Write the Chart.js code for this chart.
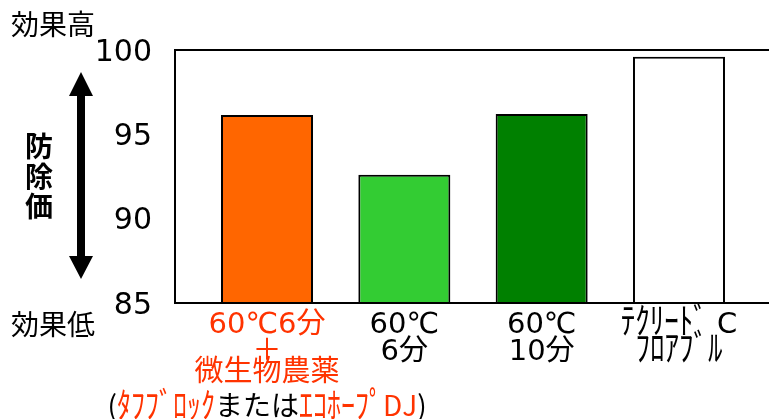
<!DOCTYPE html>
<html>
<head>
<meta charset="utf-8">
<title>防除価</title>
<script src="https://cdn.jsdelivr.net/npm/chart.js@4.4.0/dist/chart.umd.min.js"></script>
<style>
    html, body { margin: 0; padding: 0; background: #fff; overflow: hidden; }
    #wrap { position: relative; width: 780px; height: 419px; }
</style>
</head>
<body>
<div id="wrap"><canvas id="chart"></canvas></div>
<script>
// data
const categories = [
    ['60℃6分', '＋', '微生物農薬', '(ﾀﾌﾌﾞﾛｯｸまたはｴｺﾎｰﾌﾟDJ)'],
    ['60℃', '6分'],
    ['60℃', '10分'],
    ['ﾃｸﾘｰﾄﾞ C', 'ﾌﾛｱﾌﾞﾙ']
];
const values = [96.15, 92.6, 96.2, 99.6];
const barColors = ['#FF6600', '#33CC33', '#008000', '#FFFFFF'];
const labelColors = ['#FF3300', '#000000', '#000000', '#000000'];
const yTicks = [85, 90, 95, 100];
const yTop = '効果高';
const yBottom = '効果低';
const yTitle = ['防', '除', '価'];

const FONT = "'Noto Sans CJK JP', 'Noto Sans', sans-serif";
const LABEL_FONT = "'DejaVu Sans', 'Noto Sans CJK JP', sans-serif";

function isHalfKana(ch) {
    const c = ch.charCodeAt(0);
    return c >= 0xFF61 && c <= 0xFF9F;
}

// draws one label line centred on cx, half-width kana stretched a bit taller
function drawLine(ctx, text, cx, y, colorOf) {
    const chars = Array.from(text);
    let total = 0;
    chars.forEach(function (ch) { total += ctx.measureText(ch).width; });
    let px = cx - total / 2;
    ctx.textAlign = 'left';
    chars.forEach(function (ch, k) {
        ctx.fillStyle = colorOf(k);
        if (isHalfKana(ch)) {
            ctx.save();
            ctx.translate(px, y);
            ctx.scale(1, 1.25);
            ctx.fillText(ch, 0, 0);
            ctx.restore();
        } else {
            ctx.fillText(ch, px, y);
        }
        px += ctx.measureText(ch).width;
    });
}

// frame, arrow, side texts and category labels
const decorations = {
    id: 'decorations',
    afterDraw: function (chart) {
        const ctx = chart.ctx;
        const area = chart.chartArea;
        const x = chart.scales.x;

        ctx.save();
        ctx.strokeStyle = '#000';
        ctx.lineWidth = 2;
        ctx.strokeRect(area.left, area.top, area.right - area.left, area.bottom - area.top);

        // double arrow
        ctx.fillStyle = '#000';
        ctx.fillRect(77, 92, 8, 168);
        ctx.beginPath();
        ctx.moveTo(81, 72); ctx.lineTo(93, 96); ctx.lineTo(69, 96); ctx.closePath();
        ctx.moveTo(81, 279); ctx.lineTo(93, 256); ctx.lineTo(69, 256); ctx.closePath();
        ctx.fill();

        ctx.textBaseline = 'middle';
        ctx.textAlign = 'left';
        ctx.font = '28px ' + FONT;
        ctx.fillText(yTop, 11, 24);
        ctx.fillText(yBottom, 11, 324);

        ctx.textAlign = 'center';
        ctx.font = 'bold 28px ' + FONT;
        yTitle.forEach(function (ch, i) {
            ctx.fillText(ch, 39, 146 + i * 30);
        });

        // category labels under the bars
        const lineY = [325, 352, 373, 405];
        categories.forEach(function (lines, i) {
            const cx = x.getPixelForValue(i);
            lines.forEach(function (line, j) {
                if (line.indexOf('または') >= 0) {
                    // product names coloured, brackets and または black
                    ctx.font = '28px ' + FONT;
                    const black = [];
                    const m = line.indexOf('または');
                    Array.from(line).forEach(function (ch, k) {
                        black.push(ch === '(' || ch === ')' || (k >= m && k < m + 3));
                    });
                    drawLine(ctx, line, cx, lineY[j], function (k) {
                        return black[k] ? '#000' : labelColors[i];
                    });
                } else {
                    ctx.font = '29px ' + LABEL_FONT;
                    drawLine(ctx, line, cx, lineY[j], function () { return labelColors[i]; });
                }
            });
        });
        ctx.restore();
    }
};

const ctx = document.getElementById('chart').getContext('2d');
const myChart = new Chart(ctx, {
    type: 'bar',
    data: {
        datasets: [{
            data: values.map(function (v, i) { return {x: i, y: v}; }),
            backgroundColor: barColors,
            borderColor: '#000',
            borderWidth: 2,
            categoryPercentage: 1,
            barPercentage: 0.67
        }]
    },
    options: {
        responsive: true,
        maintainAspectRatio: false,
        animation: false,
        devicePixelRatio: 1,
        layout: {
            padding: {top: 50, bottom: 116, left: 0, right: 9}
        },
        plugins: {
            legend: {display: false},
            tooltip: {enabled: false}
        },
        scales: {
            x: {
                type: 'linear',
                display: false,
                offset: false,
                grid: {offset: false},
                min: -0.67,
                max: categories.length - 1 + 0.67,
                afterBuildTicks: function (scale) {
                    scale.ticks = categories.map(function (c, i) { return {value: i}; });
                }
            },
            y: {
                min: yTicks[0],
                max: yTicks[yTicks.length - 1],
                afterFit: function (scale) { scale.width = 175; },
                afterBuildTicks: function (scale) {
                    scale.ticks = yTicks.map(function (v) { return {value: v}; });
                },
                grid: {display: false, drawTicks: false},
                border: {display: false},
                ticks: {
                    padding: 23,
                    labelOffset: 3,
                    color: '#000',
                    font: {family: "'DejaVu Sans', sans-serif", size: 30}
                }
            }
        }
    },
    plugins: [decorations]
});
</script>
</body>
</html>
